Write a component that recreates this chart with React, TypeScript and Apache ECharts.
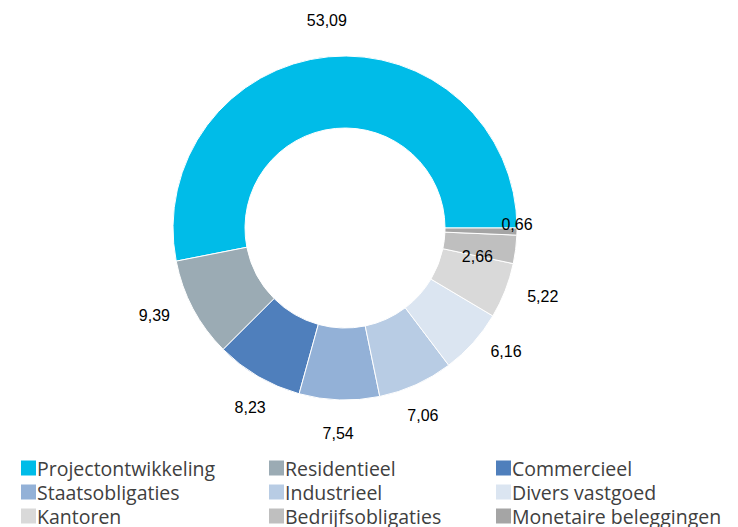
import React, { useEffect, useRef } from "react";
import * as echarts from "echarts";

const categories = [
  "Projectontwikkeling",
  "Residentieel",
  "Commercieel",
  "Staatsobligaties",
  "Industrieel",
  "Divers vastgoed",
  "Kantoren",
  "Bedrijfsobligaties",
  "Monetaire beleggingen",
];
const values = [53.09, 9.39, 8.23, 7.54, 7.06, 6.16, 5.22, 2.66, 0.66];
const colors = [
  "#00BCE8",
  "#9BABB4",
  "#4F7FBC",
  "#93B1D7",
  "#B8CCE4",
  "#DBE5F1",
  "#D9D9D9",
  "#BFBFBF",
  "#A5A5A5",
];
// label nudges (as placed in the reference)
const labelOffsets: Record<number, [number, number]> = {
  0: [2, 0],
  1: [-7, -10],
  2: [10, 0],
  3: [0, -2],
  4: [-8, -2],
  5: [6, -15],
  6: [4, -7],
  7: [-74, 3],
  8: [-36, -8],
};

const fmt = (v: number) => v.toFixed(2).replace(".", ",");

export default function App() {
  const ref = useRef<HTMLDivElement>(null);
  useEffect(() => {
    if (!ref.current) return;
    const chart = echarts.init(ref.current, undefined, { renderer: "svg" });
    const mainData = categories.map((name, i) => ({
      name,
      value: values[i],
      itemStyle: { color: colors[i] },
    }));
    const labelData = categories.map((name, i) => ({
      name,
      value: values[i],
      label: labelOffsets[i] ? { offset: labelOffsets[i] } : {},
    }));
    const legendBase = {
      orient: "vertical" as const,
      top: 458,
      height: 90,
      padding: 0,
      itemWidth: 17,
      itemHeight: 17,
      itemGap: 4,
      icon: "rect",
      selectedMode: false,
      textStyle: {
        fontSize: 19.5,
        color: "#404040",
        fontFamily: "Open Sans",
        padding: [0, 0, 0, -5],
      },
    };
    chart.setOption({
      animation: false,
      legend: [
        { ...legendBase, left: 19, data: [categories[0], categories[3], categories[6]] },
        { ...legendBase, left: 267, data: [categories[1], categories[4], categories[7]] },
        { ...legendBase, left: 494, data: [categories[2], categories[5], categories[8]] },
      ],
      series: [
        {
          type: "pie",
          center: [345, 228],
          radius: [100, 172],
          startAngle: 0,
          clockwise: false,
          silent: true,
          itemStyle: { borderColor: "#ffffff", borderWidth: 1 },
          label: { show: false },
          labelLine: { show: false },
          data: mainData,
        },
        {
          type: "pie",
          center: [345, 228],
          radius: [195, 215],
          startAngle: 0,
          clockwise: false,
          silent: true,
          itemStyle: { color: "rgba(0,0,0,0)" },
          label: {
            show: true,
            position: "inside",
            fontSize: 16,
            color: "#000000",
            fontFamily: "Liberation Sans, Arial, sans-serif",
            formatter: (p: any) => fmt(p.value),
          },
          labelLine: { show: false },
          data: labelData,
        },
      ],
    });
    return () => chart.dispose();
  }, []);
  return (
    <div
      ref={ref}
      style={{ position: "fixed", left: 0, top: 0, width: 738, height: 527, background: "#fff" }}
    />
  );
}
